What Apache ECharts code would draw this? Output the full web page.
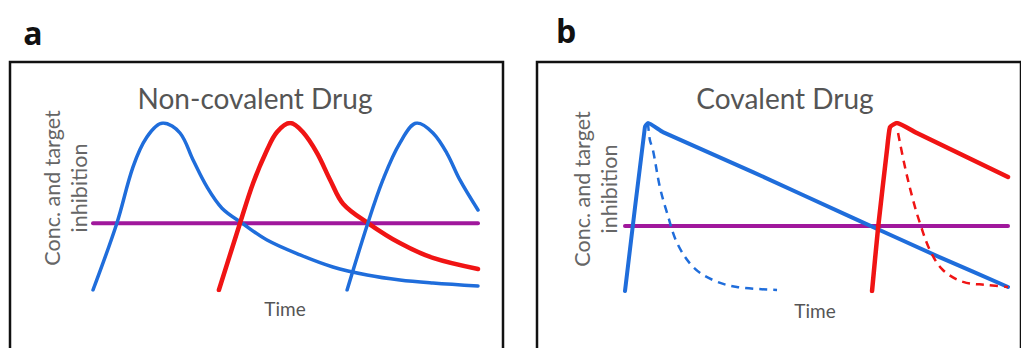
<!DOCTYPE html>
<html>
<head>
<meta charset="utf-8">
<script src="https://cdn.jsdelivr.net/npm/echarts@6/dist/echarts.min.js"></script>
<style>
  html, body { margin: 0; padding: 0; background: #fff; }
  #chart { width: 1021px; height: 348px; }
</style>
</head>
<body>
<div id="chart"></div>
<script>
// time 0-100, concentration 0-100 (arbitrary units)
var threshold_a = 40;
var threshold_b = 38.7;

var nc_dose1 = [[0,0],[6.2,40],[10.4,73.7],[14,91.6],[18.2,100],[22.6,94],[26,77.8],[29.6,61.7],
  [33.5,49],[38.7,40.1],[45.2,29.9],[53.8,21],[62.3,13.8],[71.2,9],[79.7,6],[88.3,4.2],[100,2.4]];
var nc_dose2 = [[32.7,0],[38.2,40.1],[41.6,64.1],[45.2,83.8],[47.8,94.6],[51.2,100],[54.5,94.6],[58.2,82],
  [61.6,65.9],[65,51.5],[71.4,40.1],[79.7,28.1],[88.3,19.2],[100,12.6]];
var nc_dose3 = [[66,0],[71.4,40.1],[75.3,65.9],[79.7,88],[84.2,100],[88.3,94],[91.9,82],[95.3,65.9],[100,47.9]];

var cov_inhib1 = [[0,0],[5.2,97.6],[6,100],[9.9,94.6],[33.4,70.8],[59.5,43.5],[81.5,20.8],[100,2.4]];
var cov_conc1 = [[6,100],[6.5,89.9],[7.3,83.9],[9.1,61.9],[11,46.4],[13.6,28.6],[17.8,14.3],[23,6.5],[29.2,2.4],[39.7,0.6]];
var cov_inhib2 = [[64.5,0],[66.1,38.1],[68.4,83.9],[69.2,97.6],[71,100],[76.2,94],[100,67.9]];
var cov_conc2 = [[71.3,94],[73.1,73.8],[75.2,54.2],[77,40.5],[79.6,24.4],[83,12.5],[88.3,5.4],[94.5,3.6],[100,2.4]];

var blue = '#1f6ddb';
var red = '#f01414';
var magenta = '#a0189c';
var font = 'Lato';

function hiddenAxis(idx) {
  return { type: 'value', gridIndex: idx, min: 0, max: 100, show: false };
}
function line(xi, data, color, width, opts) {
  var s = {
    type: 'line', xAxisIndex: xi, yAxisIndex: xi, data: data,
    showSymbol: false, symbol: 'none', smooth: 0.35,
    lineStyle: { color: color, width: width, cap: 'round', join: 'round' },
    z: 3
  };
  for (var k in opts) s[k] = opts[k];
  return s;
}

var chart = echarts.init(document.getElementById('chart'), null, { renderer: 'svg' });
chart.setOption({
  animation: false,
  backgroundColor: '#fff',
  grid: [
    { left: 93, top: 123, width: 385, height: 167 },
    { left: 625, top: 123, width: 383, height: 168 }
  ],
  xAxis: [hiddenAxis(0), hiddenAxis(1)],
  yAxis: [hiddenAxis(0), hiddenAxis(1)],
  graphic: [
    { type: 'rect', shape: { x: 10, y: 62, width: 493, height: 300 }, style: { fill: 'none', stroke: '#111', lineWidth: 2.5 } },
    { type: 'rect', shape: { x: 537, y: 62, width: 484, height: 300 }, style: { fill: 'none', stroke: '#111', lineWidth: 2.5 } },
    { type: 'text', x: 33, y: 32, style: { text: 'a', font: 'bold 32px "Open Sans"', fill: '#111', align: 'center', verticalAlign: 'middle' } },
    { type: 'text', x: 566, y: 30, style: { text: 'b', font: 'bold 32px "Open Sans"', fill: '#111', align: 'center', verticalAlign: 'middle' } },
    { type: 'text', x: 255, y: 98, style: { text: 'Non-covalent Drug', font: '28px ' + font, fill: '#555', align: 'center', verticalAlign: 'middle' } },
    { type: 'text', x: 785, y: 98, style: { text: 'Covalent Drug', font: '28px ' + font, fill: '#555', align: 'center', verticalAlign: 'middle' } },
    { type: 'text', x: 65, y: 188, rotation: Math.PI / 2, style: { text: 'Conc. and target\ninhibition', font: '21.5px ' + font, lineHeight: 27, fill: '#666', align: 'center', verticalAlign: 'middle' } },
    { type: 'text', x: 595, y: 189, rotation: Math.PI / 2, style: { text: 'Conc. and target\ninhibition', font: '21.5px ' + font, lineHeight: 27, fill: '#666', align: 'center', verticalAlign: 'middle' } },
    { type: 'text', x: 285, y: 308, style: { text: 'Time', font: '19px ' + font, fill: '#555', align: 'center', verticalAlign: 'middle' } },
    { type: 'text', x: 815, y: 310, style: { text: 'Time', font: '19px ' + font, fill: '#555', align: 'center', verticalAlign: 'middle' } }
  ],
  series: [
    line(0, [[0, threshold_a], [100, threshold_a]], magenta, 4, { smooth: false, z: 2 }),
    line(0, nc_dose1, blue, 3.5),
    line(0, nc_dose2, red, 4.5),
    line(0, nc_dose3, blue, 3.5),
    line(1, [[0, threshold_b], [100, threshold_b]], magenta, 4, { smooth: false, z: 2 }),
    line(1, cov_conc1, blue, 2.5, { lineStyle: { color: blue, width: 2.5, type: [8, 6] } }),
    line(1, cov_inhib1, blue, 4, { smooth: 0.15 }),
    line(1, cov_conc2, red, 2.5, { lineStyle: { color: red, width: 2.5, type: [8, 6] } }),
    line(1, cov_inhib2, red, 4.5, { smooth: 0.15 })
  ]
});
</script>
</body>
</html>
